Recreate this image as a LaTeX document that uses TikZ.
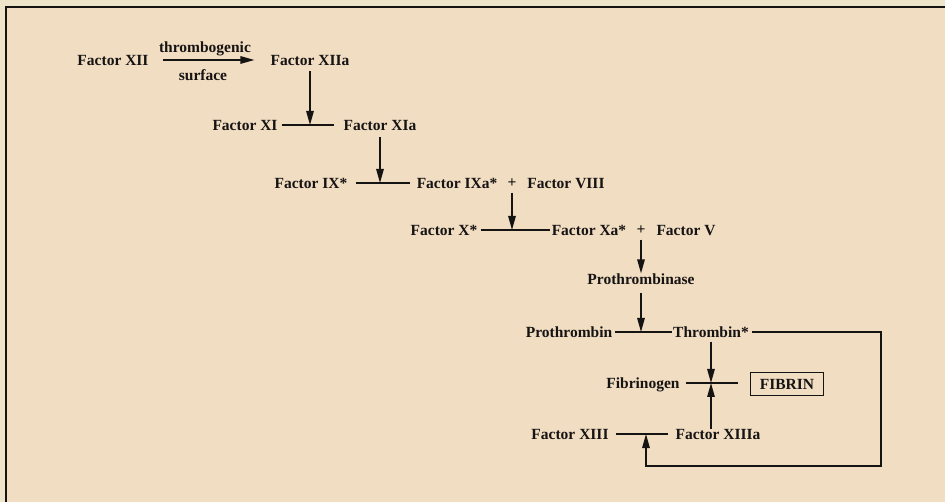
\documentclass[tikz,border=0pt]{standalone}
\usepackage{fontspec}
\setmainfont{Liberation Serif}
\usetikzlibrary{arrows.meta}
\definecolor{ink}{HTML}{161313}
\definecolor{paper}{HTML}{F1DDC2}
\definecolor{margin}{HTML}{EEE4CA}

\tikzset{
  factor/.style={inner sep=0pt, text depth=0pt, text=ink,
    font=\fontsize{15.5}{18}\selectfont\bfseries},
  link/.style={draw=ink, line width=1.4pt},
  push/.style={link, -{Triangle[length=14pt,width=7.5pt]}}
}

\begin{document}
\begin{tikzpicture}[x=1pt,y=-1pt]
  \useasboundingbox (0,0) rectangle (945,502);
  \fill[margin] (0,0) rectangle (945,502);
  \fill[paper] (6,7) rectangle (945,502);
  \draw[ink, line width=1.8pt] (6,502) -- (6,7) -- (945,7);

  % contact phase
  \node[factor] (fxii) at (113,60) {Factor XII};
  \node[factor] (fxiia) at (310,60) {Factor XIIa};
  \node[factor] (thromb) at (205,47) {thrombogenic};
  \node[factor] (surf) at (203,75) {surface};
  \draw[push] ([xshift=14pt]fxii.east) -- ([xshift=-16pt]fxiia.west);

  \node[factor] (fxi) at (245,125) {Factor XI};
  \node[factor] (fxia) at (380,125) {Factor XIa};
  \draw[link, shorten <=4pt, shorten >=9pt] (fxi.east) -- (fxia.west);
  \draw[push, shorten <=6pt] (fxiia.south) -- (fxiia.south |- fxi.east);

  \node[factor] (fix) at (311,183) {Factor IX*};
  \node[factor] (fixa) at (457,183) {Factor IXa*};
  \node[factor] (plusa) at (512,183) {+};
  \node[factor] (fviii) at (566,183) {Factor VIII};
  \draw[link, shorten <=8pt, shorten >=7pt] (fix.east) -- (fixa.west);
  \draw[push, shorten <=7pt] (fxia.south) -- (fxia.south |- fix.east);

  \node[factor] (fx) at (444,230) {Factor X*};
  \node[factor] (fxa) at (589,230) {Factor Xa*};
  \node[factor] (plusb) at (641,230) {+};
  \node[factor] (fv) at (686,230) {Factor V};
  \draw[link, shorten <=3pt, shorten >=2pt] (fx.east) -- (fxa.west);
  \draw[push, shorten <=5pt] (plusa.south) -- (plusa.south |- fx.east);

  % common pathway
  \node[factor] (pase) at (641,279) {Prothrombinase};
  \draw[push, shorten <=5pt] (plusb.south) -- (pase.north);

  \node[factor] (pt) at (569,332) {Prothrombin};
  \node[factor] (thr) at (711,332) {Thrombin*};
  \draw[link, shorten <=3pt, shorten >=1pt] (pt.east) -- (thr.west);
  \draw[push, shorten <=8pt] (pase.south) -- (pase.south |- pt.east);

  \node[factor] (fib) at (643,383) {Fibrinogen};
  \node[factor, draw=ink, line width=1.4pt, minimum width=73pt,
    minimum height=23pt] (fibrin) at (787,384) {FIBRIN};
  \draw[link, shorten <=6pt, shorten >=12pt] (fib.east) -- (fibrin.west |- fib.east);
  \draw[push, shorten <=4pt] (thr.south) -- (thr.south |- fib.east);

  \node[factor] (fxiii) at (570,434) {Factor XIII};
  \node[factor] (fxiiia) at (718,434) {Factor XIIIa};
  \draw[link, shorten <=7pt, shorten >=7pt] (fxiii.east) -- (fxiiia.west);
  \draw[push] (thr.south |- fxiiia.north) -- (thr.south |- fib.east);

  % thrombin feedback
  \coordinate (loop) at (881,466);
  \coordinate (xiiic) at (646,434);
  \draw[push] ([xshift=3pt]thr.east) -| (loop) -| (xiiic);
\end{tikzpicture}
\end{document}
